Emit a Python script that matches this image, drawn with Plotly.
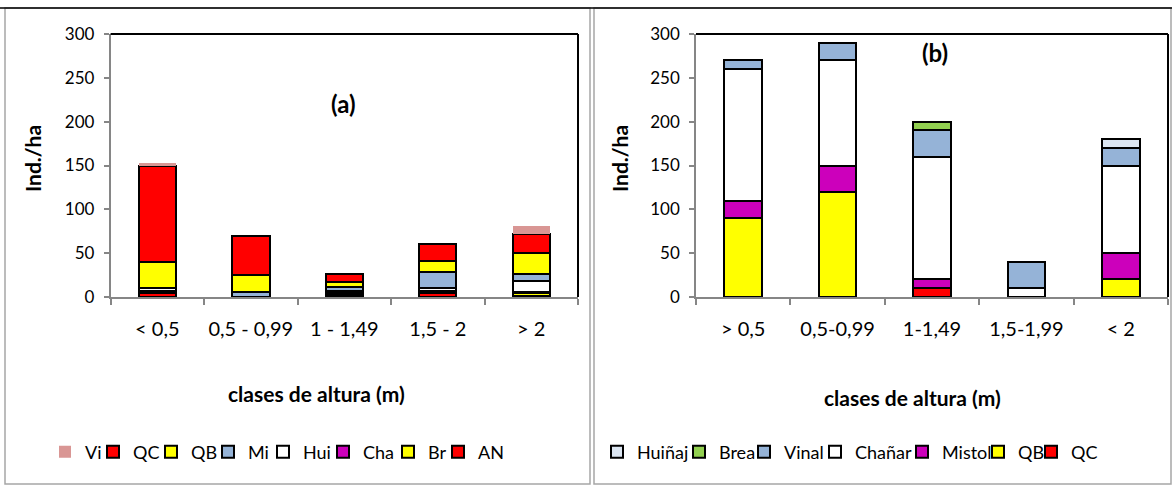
import plotly.graph_objects as go

# ---- panel (a): density by height class, species stacked bottom -> top
cats_a = ["< 0,5", "0,5 - 0,99", "1 - 1,49", "1,5 - 2", "> 2"]
AN = [4, 0, 2, 4, 1]
Br = [3, 0, 1, 2, 3]
Cha = [0, 0, 1, 1, 2]
Hui = [3, 0, 3, 3, 12]
Mi = [0, 6, 4, 18, 8]
QB_a = [30, 19, 6, 13, 24]
QC_a = [110, 45, 9, 20, 22]
Vi = [3, 0, 0, 0, 9]

# ---- panel (b)
cats_b = ["> 0,5", "0,5-0,99", "1-1,49", "1,5-1,99", "< 2"]
QC_b = [0, 0, 10, 0, 0]
QB_b = [90, 120, 0, 0, 20]
Mistol = [20, 30, 10, 0, 30]
Chanar = [150, 120, 140, 10, 100]
Vinal = [10, 20, 30, 30, 20]
Brea = [0, 0, 10, 0, 0]
Huinaj = [0, 0, 0, 0, 10]

RED = "#FF0000"
YEL = "#FFFF00"
MAG = "#CC00BB"
WHITE = "#FFFFFF"
BLUE = "#95B3D7"
PINK = "#D99694"
GREEN = "#92D050"
LBLUE = "#DCE6F2"

FONT = "Lato, 'Liberation Sans', sans-serif"
AXIS_GRAY = "#868686"

# (name, values, colour, outline width, legend key left edge in px)
series_a = [
    ("AN", AN, RED, 2, 458), ("Br", Br, YEL, 2, 408), ("Cha", Cha, MAG, 2, 343),
    ("Hui", Hui, WHITE, 2, 283), ("Mi", Mi, BLUE, 2, 228), ("QB", QB_a, YEL, 2, 171),
    ("QC", QC_a, RED, 2, 113), ("Vi", Vi, PINK, 0, 65),
]
series_b = [
    ("QC", QC_b, RED, 1051), ("QB", QB_b, YEL, 998), ("Mistol", Mistol, MAG, 922),
    ("Chañar", Chanar, WHITE, 835), ("Vinal", Vinal, BLUE, 764),
    ("Brea", Brea, GREEN, 699), ("Huiñaj", Huinaj, LBLUE, 617),
]

W, H = 1172, 485


def px(x):
    return x / W


def py(y):
    return (H - y) / H


legend_common = dict(
    orientation="h", yanchor="middle", xanchor="left",
    font=dict(family=FONT, size=18, color="#000000"),
    bgcolor="rgba(0,0,0,0)", itemwidth=30, borderwidth=0,
)
LEG_Y = 452
# key sits ~14 px right of the legend box origin; shift left to keep the
# label close to where the next key begins
KEY_OFFSET = 20

fig = go.Figure()
legends = {}
n = 0
for name, vals, col, lw, kx in series_a:
    n += 1
    lid = "legend" if n == 1 else f"legend{n}"
    legends[lid] = dict(x=px(kx - KEY_OFFSET), y=py(LEG_Y), **legend_common)
    fig.add_trace(go.Bar(
        x=cats_a, y=vals, name=name, xaxis="x", yaxis="y", legend=lid,
        marker=dict(color=col, line=dict(color="#000000", width=lw)),
    ))
for name, vals, col, kx in series_b:
    n += 1
    lid = f"legend{n}"
    legends[lid] = dict(x=px(kx - KEY_OFFSET), y=py(LEG_Y), **legend_common)
    fig.add_trace(go.Bar(
        x=cats_b, y=vals, name=name, xaxis="x2", yaxis="y2", legend=lid,
        marker=dict(color=col, line=dict(color="#000000", width=2)),
    ))

xdom_a = [px(110.6), px(578)]
xdom_b = [px(696), px(1168)]
ydom = [py(297), py(34)]

xaxis_common = dict(
    type="category", showline=True, linecolor=AXIS_GRAY, linewidth=1.5,
    ticks="outside", ticklen=6, tickcolor=AXIS_GRAY, tickwidth=1.5,
    tickson="boundaries", showgrid=False, zeroline=False, tickangle=0,
    tickfont=dict(family=FONT, size=20, color="#000000"),
    ticklabelstandoff=13,
)
yaxis_common = dict(
    range=[0, 300], dtick=50, showline=True, linecolor=AXIS_GRAY,
    linewidth=1.5, ticks="outside", ticklen=5, tickcolor=AXIS_GRAY,
    tickwidth=1.5, showgrid=False, zeroline=False,
    tickfont=dict(family=FONT, size=17, color="#000000"),
    ticklabelstandoff=6,
)

fig.update_layout(
    width=W, height=H, margin=dict(l=0, r=0, t=0, b=0, autoexpand=False),
    paper_bgcolor="#FFFFFF", plot_bgcolor="#FFFFFF",
    barmode="stack", bargap=0.6,
    xaxis=dict(domain=xdom_a, anchor="y", **xaxis_common),
    yaxis=dict(domain=ydom, anchor="x", **yaxis_common),
    xaxis2=dict(domain=xdom_b, anchor="y2", **xaxis_common),
    yaxis2=dict(domain=ydom, anchor="x2", **yaxis_common),
    showlegend=True,
    **legends,
)

# plot-area frame: dark top and right edges
for xr, yr in (("x domain", "y domain"), ("x2 domain", "y2 domain")):
    fig.add_shape(type="line", xref=xr, yref=yr, x0=0, x1=1, y0=1, y1=1,
                  line=dict(color="#000000", width=2))
    fig.add_shape(type="line", xref=xr, yref=yr, x0=1, x1=1, y0=0, y1=1,
                  line=dict(color="#000000", width=2))

# outer chart frames
for x0, x1 in ((5, 590), (594, 1171)):
    fig.add_shape(type="rect", xref="paper", yref="paper",
                  x0=px(x0), x1=px(x1), y0=py(484), y1=py(8),
                  line=dict(color="#A6A6A6", width=1.5))
fig.add_shape(type="line", xref="paper", yref="paper",
              x0=0, x1=1, y0=py(8), y1=py(8),
              line=dict(color="#000000", width=1.5))

title_font = dict(family=FONT, size=21, color="#000000")
ytitle_font = dict(family=FONT, size=21, color="#000000")
tag_font = dict(family=FONT, size=24, color="#000000")
annotations = [
    dict(text="<b>(a)</b>", x=px(343), y=py(103), font=tag_font),
    dict(text="<b>(b)</b>", x=px(935), y=py(53), font=tag_font),
    dict(text="<b>clases de altura (m)</b>", x=px(316), y=py(393), font=title_font),
    dict(text="<b>clases de altura (m)</b>", x=px(912), y=py(397), font=title_font),
    dict(text="<b>Ind./ha</b>", x=px(33), y=py(159), textangle=-90, font=ytitle_font),
    dict(text="<b>Ind./ha</b>", x=px(620), y=py(159), textangle=-90, font=ytitle_font),
]
for a in annotations:
    fig.add_annotation(xref="paper", yref="paper", showarrow=False,
                       xanchor="center", yanchor="middle", **a)

fig.write_html("out.html")
